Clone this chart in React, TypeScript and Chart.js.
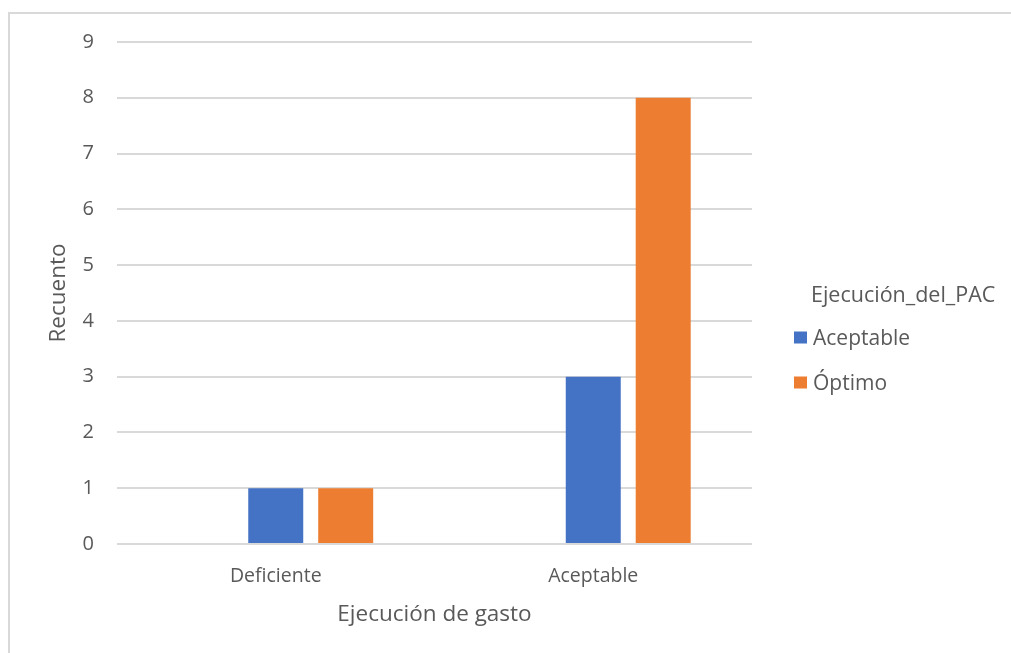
import React, { useEffect, useRef } from "react";
import { Chart, registerables } from "chart.js";

Chart.register(...registerables);

// ---- data ----
const categories = ["Deficiente", "Aceptable"];
const seriesNames = ["Deficiente", "Aceptable", "Óptimo"];
const deficienteValues: (number | null)[] = [null, null];
const aceptableValues = [1, 3];
const optimoValues = [1, 8];
const yTickValues = [0, 1, 2, 3, 4, 5, 6, 7, 8, 9];
const xTitle = "Ejecución de gasto";
const yTitle = "Recuento";
const legendTitle = "Ejecución_del_PAC";
const legendSeries = ["Aceptable", "Óptimo"];

// ---- styles ----
const TEXT = "#595959";
const GRID = "#d9d9d9";
const BLUE = "#4472C4";
const ORANGE = "#ED7D31";
const FONT = '"Open Sans", sans-serif';

const sideLegend = {
  id: "sideLegend",
  afterDraw(chart: any) {
    const ctx = chart.ctx as CanvasRenderingContext2D;
    ctx.save();
    ctx.fillStyle = TEXT;
    ctx.textAlign = "left";
    ctx.textBaseline = "middle";
    ctx.font = `21.5px ${FONT}`;
    ctx.fillText(legendTitle, 801, 282);
    let cy = 323.5;
    chart.data.datasets.forEach((ds: any) => {
      if (!legendSeries.includes(ds.label)) return;
      ctx.fillStyle = ds.backgroundColor;
      ctx.fillRect(784, cy - 6, 13, 12);
      ctx.fillStyle = TEXT;
      ctx.font = `21px ${FONT}`;
      ctx.fillText(ds.label, 803, cy + 2);
      cy += 45;
    });
    ctx.restore();
  },
};

export default function App() {
  const ref = useRef<HTMLCanvasElement | null>(null);

  useEffect(() => {
    if (!ref.current) return;
    const chart = new Chart(ref.current, {
      type: "bar",
      data: {
        labels: categories,
        datasets: [
          { label: seriesNames[0], data: deficienteValues, backgroundColor: "#A5A5A5" },
          { label: seriesNames[1], data: aceptableValues, backgroundColor: BLUE },
          { label: seriesNames[2], data: optimoValues, backgroundColor: ORANGE },
        ],
      },
      options: {
        responsive: false,
        animation: false,
        maintainAspectRatio: false,
        layout: { padding: { left: 0, top: 28, right: 259, bottom: 0 } },
        datasets: {
          bar: { categoryPercentage: 0.661, barPercentage: 0.786 },
        },
        plugins: {
          legend: { display: false },
          tooltip: { enabled: false },
        },
        scales: {
          x: {
            grid: { display: false, drawTicks: false },
            border: { display: false },
            ticks: {
              color: TEXT,
              font: { family: FONT, size: 19.5 },
              padding: 21,
              maxRotation: 0,
            },
            title: {
              display: true,
              text: xTitle,
              color: TEXT,
              font: { family: FONT, size: 22.5 },
              padding: { top: 0, bottom: 24.5 },
            },
            afterFit(scale: any) {
              scale.height = 109;
              scale.paddingLeft = 0;
              scale.paddingRight = 0;
            },
          },
          y: {
            min: 0,
            max: 9,
            grid: { color: GRID, lineWidth: 2, drawTicks: false },
            border: { display: false },
            afterBuildTicks(scale: any) {
              scale.ticks = yTickValues.map((v) => ({ value: v }));
            },
            ticks: {
              color: TEXT,
              font: { family: FONT, size: 20 },
              padding: 23,
              stepSize: 1,
            },
            title: {
              display: true,
              text: yTitle,
              color: TEXT,
              font: { family: FONT, size: 22.5 },
              padding: { top: 35, bottom: 0 },
            },
            afterFit(scale: any) {
              scale.width = 107;
              scale.paddingTop = 0;
              scale.paddingBottom = 0;
            },
          },
        },
      },
      plugins: [sideLegend],
    });
    return () => chart.destroy();
  }, []);

  return (
    <div
      style={{
        position: "absolute",
        left: 8,
        top: 12,
        width: 1001,
        height: 639,
        borderTop: `2px solid ${GRID}`,
        borderLeft: `2px solid ${GRID}`,
        background: "#fff",
      }}
    >
      <canvas ref={ref} width={1001} height={639} style={{ display: "block" }} />
    </div>
  );
}
